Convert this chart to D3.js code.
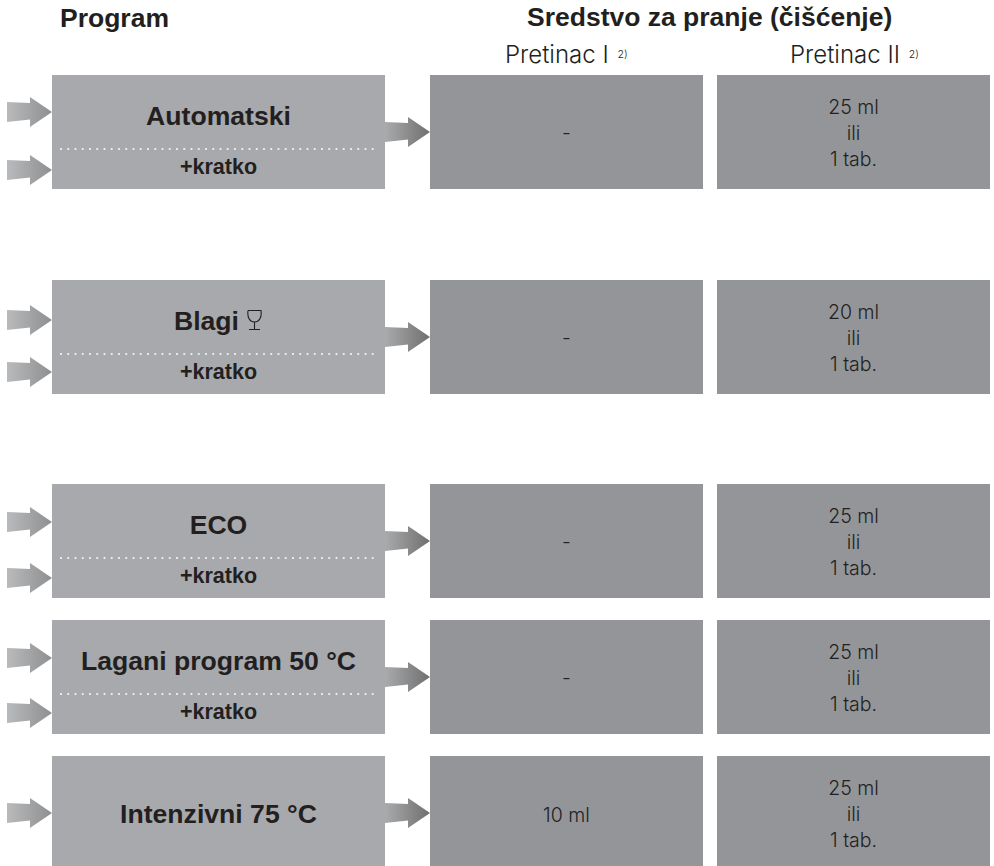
<!DOCTYPE html>
<html>
<head>
<meta charset="utf-8">
<script src="https://cdn.jsdelivr.net/npm/d3@7"></script>
<style>
    html, body { margin: 0; padding: 0; background: #fff; }
    svg { display: block; }
    text { fill: #231f20; }
    .bold { font-family: "Liberation Sans", Arial, sans-serif; font-weight: 700; }
    .light { font-family: Inter, "Liberation Sans", sans-serif; font-weight: 300; }
</style>
</head>
<body>
<svg id="chart" width="994" height="866"></svg>
<script>
// Table content
var programs = ["Automatski", "Blagi", "ECO", "Lagani program 50 °C", "Intenzivni 75 °C"];
var hasShort = [true, true, true, true, false];
var compartment1 = ["-", "-", "-", "-", "10 ml"];
var compartment2 = ["25 ml", "20 ml", "25 ml", "25 ml", "25 ml"];
var tabs = ["1 tab.", "1 tab.", "1 tab.", "1 tab.", "1 tab."];
var columns = ["Pretinac I", "Pretinac II"];

var w = 994, h = 866;
var svg = d3.select("#chart");

// Rows are not evenly spaced in the picture, so ordinal scales hold the layout
var rowY = d3.scaleOrdinal().domain(programs).range([75, 280, 484, 620, 756]);
var rowH = d3.scaleOrdinal().domain(programs).range([114, 114, 114, 114, 110]);
var arrowTop = d3.scaleOrdinal().domain(programs).range([37, 40, 38, 38, 57]);
var arrowBottom = d3.scaleOrdinal().domain(programs).range([95, 92, 94, 93, 0]);
var colX = d3.scaleOrdinal().domain(columns).range([430, 717]);
var headX = d3.scaleOrdinal().domain(columns).range([505, 790]);
var colW = 273;

var rows = programs.map((p, i) => ({
    name: p,
    short: hasShort[i],
    c1: compartment1[i],
    c2: compartment2[i],
    tab: tabs[i]
}));

// Arrow gradients
var defs = svg.append("defs");
function addGradient(id, from, to) {
    var g = defs.append("linearGradient").attr("id", id);
    g.append("stop").attr("offset", "0%").attr("stop-color", from);
    g.append("stop").attr("offset", "100%").attr("stop-color", to);
}
addGradient("arrowIn", "#b9babc", "#8e8f90");
addGradient("arrowOut", "#a9aaac", "#6f6f6f");

// Arrow ending at (x, y), 45px long
function arrowPath(x, y) {
    var p = d3.path();
    p.moveTo(x - 45, y - 10);
    p.lineTo(x - 22, y - 9);
    p.lineTo(x - 22, y - 15);
    p.lineTo(x, y);
    p.lineTo(x - 22, y + 15);
    p.lineTo(x - 22, y + 7.5);
    p.lineTo(x - 45, y + 10);
    p.closePath();
    return p.toString();
}

// Headers
svg.append("text").attr("class", "bold").attr("x", 60).attr("y", 27)
    .style("font-size", "26.5px").text("Program");
svg.append("text").attr("class", "bold").attr("x", 527).attr("y", 26)
    .style("font-size", "26.5px").text("Sredstvo za pranje (čišćenje)");

var head = svg.selectAll(".col-head").data(columns).enter().append("text")
    .attr("class", "col-head light")
    .attr("x", d => headX(d))
    .attr("y", 63)
    .style("font-size", "24px");
head.append("tspan").text(d => d + " ");
head.append("tspan").attr("dx", 2).attr("dy", -5).style("font-size", "10.5px").text("2)");

var row = svg.selectAll(".row").data(rows).enter().append("g")
    .attr("class", "row")
    .attr("transform", d => `translate(0,${rowY(d.name)})`);

// Program box
row.append("rect")
    .attr("x", 52).attr("width", 333)
    .attr("height", d => rowH(d.name))
    .attr("fill", "#a7a9ac");

// Compartment boxes
columns.forEach(function(c) {
    row.append("rect")
        .attr("x", colX(c)).attr("width", colW)
        .attr("height", d => rowH(d.name))
        .attr("fill", "#939598");
});

// Arrows into the program box
row.append("path")
    .attr("d", d => arrowPath(52, arrowTop(d.name)))
    .attr("fill", "url(#arrowIn)");
row.filter(d => d.short).append("path")
    .attr("d", d => arrowPath(52, arrowBottom(d.name)))
    .attr("fill", "url(#arrowIn)");

// Arrow out to the compartments
row.append("path")
    .attr("d", arrowPath(430, 57))
    .attr("fill", "url(#arrowOut)");

// Program name, Blagi sits left of center to leave room for the glass
row.append("text").attr("class", "bold")
    .attr("x", d => d.name == "Blagi" ? 206.5 : 218.5)
    .attr("y", d => d.short ? 50 : 67)
    .attr("text-anchor", "middle")
    .style("font-size", "26.6px")
    .text(d => d.name);

// Dotted divider and +kratko
var short = row.filter(d => d.short);
short.append("line")
    .attr("x1", 61).attr("x2", 380)
    .attr("y1", 74).attr("y2", 74)
    .attr("stroke", "#f4f4f4")
    .attr("stroke-width", 2.2)
    .attr("stroke-linecap", "round")
    .attr("stroke-dasharray", "0 7.25");
short.append("text").attr("class", "bold")
    .attr("x", 218.5).attr("y", 99)
    .attr("text-anchor", "middle")
    .style("font-size", "21.5px")
    .text("+kratko");

// Wine glass next to Blagi
row.filter(d => d.name == "Blagi").append("path")
    .attr("d", "M248 30.5 H261 C262 38 259 42 254.5 42 C250 42 247 38 248 30.5 M254.5 42 V49.5 M249 49.5 H260")
    .attr("fill", "none")
    .attr("stroke", "#231f20")
    .attr("stroke-width", 1.1);

// Compartment I value
row.append("text").attr("class", "light")
    .attr("x", colX(columns[0]) + colW / 2)
    .attr("y", d => d.short ? 65 : 66)
    .attr("text-anchor", "middle")
    .style("font-size", "19.5px")
    .text(d => d.c1);

// Compartment II value, three lines
var c2 = row.append("text").attr("class", "light")
    .attr("text-anchor", "middle")
    .style("font-size", "19.5px");
[d => d.c2, d => "ili", d => d.tab].forEach(function(f, i) {
    c2.append("tspan")
        .attr("x", colX(columns[1]) + colW / 2)
        .attr("y", 39 + i * 26)
        .text(f);
});
</script>
</body>
</html>
